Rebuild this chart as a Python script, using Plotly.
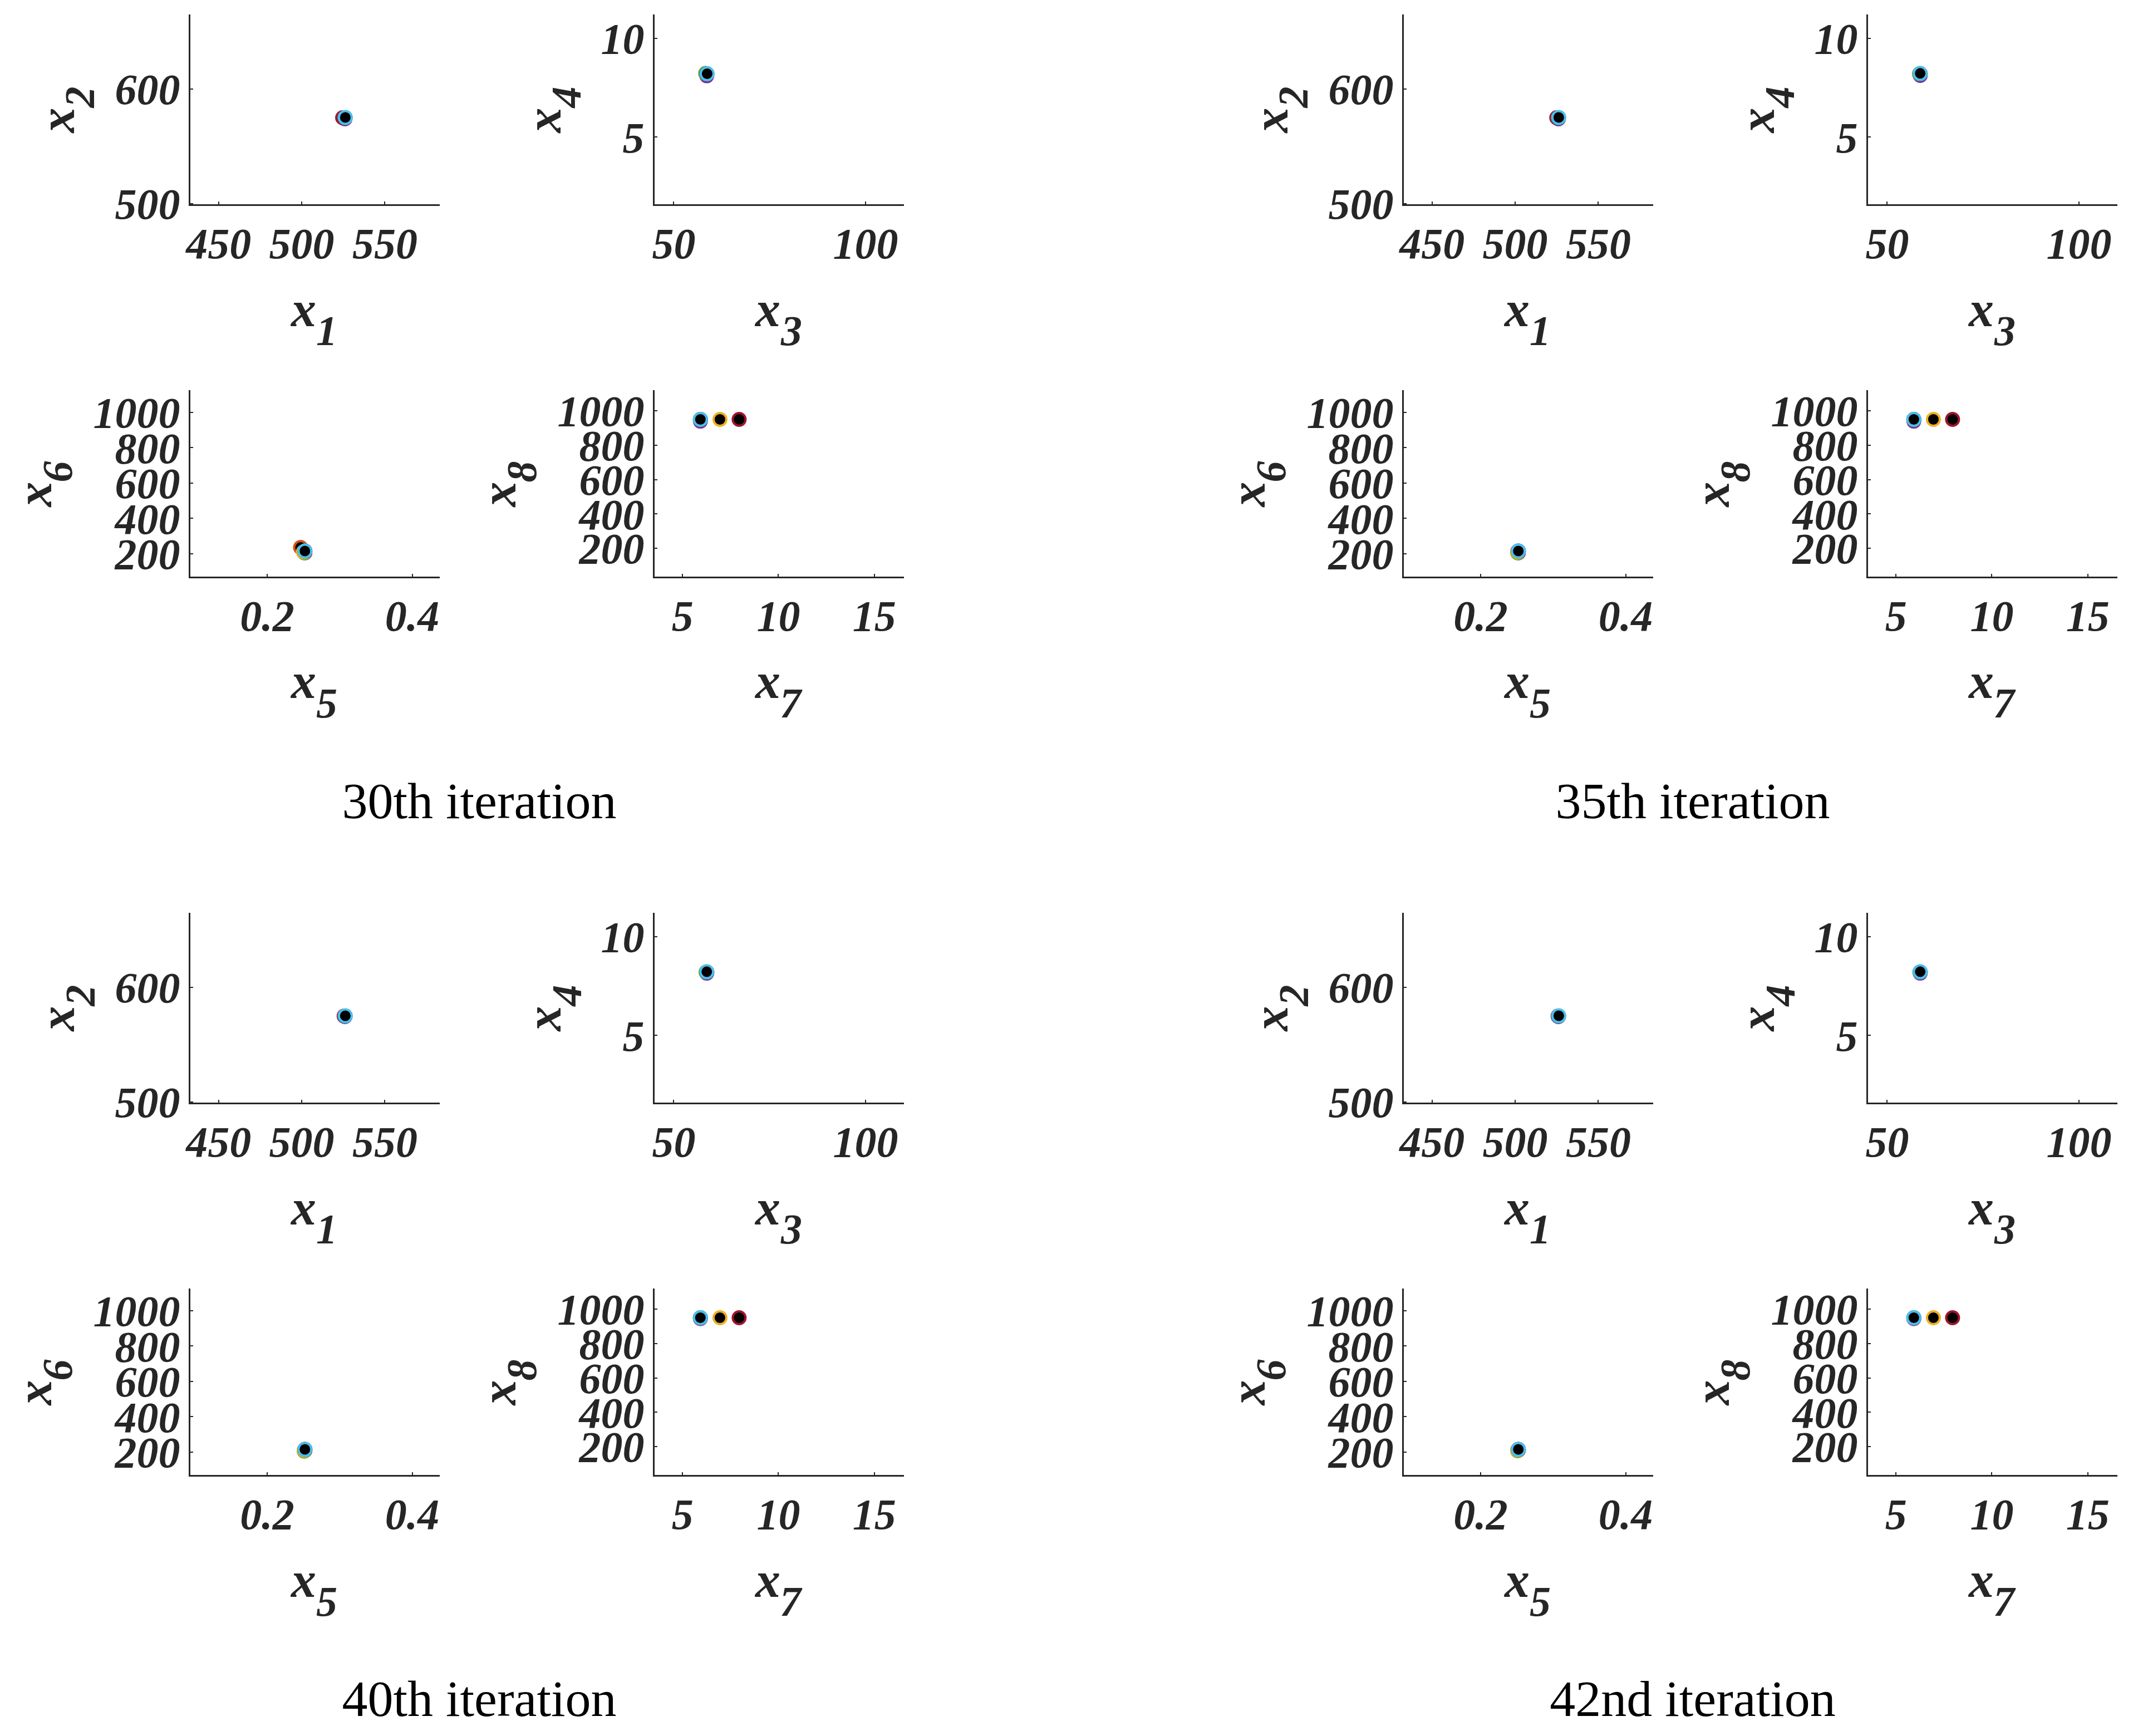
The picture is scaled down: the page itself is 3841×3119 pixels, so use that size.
import plotly.graph_objects as go

# ---------------- data ----------------
iteration_labels = ["30th iteration", "35th iteration", "40th iteration", "42nd iteration"]
particle_colors = ["#7E2F8E", "#D95319", "#77AC30", "#A2142F", "#EDB120", "#0072BD", "#4DBEEE"]

# 30th iteration (7 particles)
x1_30 = [526.0, 526.0, 526.0, 524.6, 526.0, 526.0, 526.2]
x2_30 = [574.0, 575.0, 575.0, 575.0, 575.0, 575.0, 575.2]
x3_30 = [58.6, 58.6, 58.3, 58.6, 58.6, 58.6, 58.7]
x4_30 = [8.10, 8.20, 8.22, 8.20, 8.20, 8.20, 8.20]
x5_30 = [0.252, 0.246, 0.251, 0.252, 0.250, 0.252, 0.252]
x6_30 = [205, 235, 205, 215, 210, 215, 215]
x7_30 = [5.93, 5.93, 5.93, 7.95, 6.95, 5.93, 5.93]
x8_30 = [940, 950, 950, 950, 950, 950, 950]

# 35th iteration
x1_35 = [526.0, 526.0, 526.0, 525.0, 526.0, 526.0, 526.2]
x2_35 = [574.0, 575.0, 575.0, 575.0, 575.0, 575.0, 575.2]
x3_35 = [58.6, 58.6, 58.4, 58.6, 58.6, 58.6, 58.6]
x4_35 = [8.12, 8.20, 8.20, 8.20, 8.20, 8.20, 8.22]
x5_35 = [0.252, 0.251, 0.251, 0.252, 0.251, 0.252, 0.252]
x6_35 = [205, 212, 205, 215, 210, 215, 215]
x7_35 = [5.93, 5.93, 5.93, 7.95, 6.95, 5.93, 5.93]
x8_35 = [940, 950, 950, 950, 950, 950, 950]

# 40th iteration
x1_40 = [526.0, 526.0, 526.0, 525.5, 526.0, 526.0, 526.2]
x2_40 = [574.5, 575.0, 575.0, 575.0, 575.0, 575.0, 575.2]
x3_40 = [58.6, 58.6, 58.4, 58.6, 58.6, 58.6, 58.6]
x4_40 = [8.15, 8.20, 8.20, 8.20, 8.20, 8.20, 8.22]
x5_40 = [0.252, 0.252, 0.251, 0.252, 0.251, 0.252, 0.252]
x6_40 = [208, 212, 205, 215, 210, 215, 215]
x7_40 = [5.93, 5.93, 5.93, 7.95, 6.95, 5.93, 5.93]
x8_40 = [945, 950, 950, 950, 950, 950, 950]

# 42nd iteration
x1_42 = [526.0, 526.0, 526.0, 525.8, 526.0, 526.0, 526.2]
x2_42 = [574.5, 575.0, 575.0, 575.0, 575.0, 575.0, 575.2]
x3_42 = [58.6, 58.6, 58.5, 58.6, 58.6, 58.6, 58.6]
x4_42 = [8.15, 8.20, 8.20, 8.20, 8.20, 8.20, 8.22]
x5_42 = [0.252, 0.252, 0.251, 0.252, 0.251, 0.252, 0.252]
x6_42 = [210, 212, 207, 215, 212, 215, 215]
x7_42 = [5.93, 5.93, 5.93, 7.95, 6.95, 5.93, 5.93]
x8_42 = [945, 950, 950, 950, 950, 950, 950]

iterations = [
    [x1_30, x2_30, x3_30, x4_30, x5_30, x6_30, x7_30, x8_30],
    [x1_35, x2_35, x3_35, x4_35, x5_35, x6_35, x7_35, x8_35],
    [x1_40, x2_40, x3_40, x4_40, x5_40, x6_40, x7_40, x8_40],
    [x1_42, x2_42, x3_42, x4_42, x5_42, x6_42, x7_42, x8_42],
]

# axis ranges / ticks per panel (x1-x2, x3-x4, x5-x6, x7-x8)
x_ranges = [[433, 583], [45, 110], [0.094, 0.438], [3.54, 16.55]]
y_ranges = [[499.5, 665], [1.6, 11.2], [70, 1125], [35, 1120]]
x_ticks = [[450, 500, 550], [50, 100], [0.2, 0.4], [5, 10, 15]]
y_ticks = [[500, 600], [5, 10], [200, 400, 600, 800, 1000], [200, 400, 600, 800, 1000]]
x_tick_text = [["450", "500", "550"], ["50", "100"], ["0.2", "0.4"], ["5", "10", "15"]]
y_tick_text = [["500", "600"], ["5", "10"], ["200", "400", "600", "800", "1000"],
               ["200", "400", "600", "800", "1000"]]

# ---------------- layout geometry (pixels, page coordinates) ----------------
W, H = 3841, 3119
PAGE_OFF = 8            # default body margin of the html page
GX = [0, 2180]          # group x offsets
GY = [0, 1614]          # group y offsets
PX = [[342, 790], [1176, 1624], [342, 790], [1176, 1624]]
PY = [[26, 367], [26, 367], [701, 1036], [701, 1036]]
YT_DX = [240, 200, 281, 281]
CAPTION_X = 861
CAPTION_Y = [1447, 3060]   # caption centre per row

AX_COLOR = "#262626"
TICK_FONT = dict(family="Liberation Serif", size=78, color=AX_COLOR, weight="bold", style="italic")
TITLE_FONT = dict(family="Liberation Serif", size=90, color=AX_COLOR, weight="bold", style="italic")
SUB_FONT = dict(family="Liberation Serif", size=76, color=AX_COLOR, weight="bold", style="italic")

fig = go.Figure()
layout = dict(width=W, height=H, autosize=False,
              margin=dict(l=0, r=0, t=0, b=0, pad=0, autoexpand=False),
              paper_bgcolor="white", plot_bgcolor="rgba(0,0,0,0)", showlegend=False)
annotations = []

def px2paper(x, y):
    return (x - PAGE_OFF) / W, 1 - (y - PAGE_OFF) / H

k = 0
for gi, vals in enumerate(iterations):
    gx = GX[gi % 2]
    gy = GY[gi // 2]
    for p in range(4):
        k += 1
        xs = vals[2 * p]
        ys = vals[2 * p + 1]
        xname = "x" if k == 1 else f"x{k}"
        yname = "y" if k == 1 else f"y{k}"
        fig.add_trace(go.Scatter(
            x=xs, y=ys, mode="markers", xaxis=xname, yaxis=yname,
            marker=dict(size=23, color="black",
                        line=dict(color=particle_colors, width=4)),
            hoverinfo="skip"))
        l, r = PX[p][0] + gx, PX[p][1] + gx
        t, b = PY[p][0] + gy, PY[p][1] + gy
        xl, yb = px2paper(l, b)
        xr, yt = px2paper(r, t)
        common = dict(showline=True, linecolor=AX_COLOR, linewidth=3, mirror=False,
                      showgrid=False, zeroline=False, ticks="inside", ticklen=5,
                      tickwidth=2, tickcolor=AX_COLOR, tickfont=TICK_FONT, fixedrange=True,
                      automargin=False)
        layout["xaxis" if k == 1 else f"xaxis{k}"] = dict(
            common, domain=[xl, xr], range=x_ranges[p],
            tickvals=x_ticks[p], ticktext=x_tick_text[p],
            anchor=yname, ticklabelstandoff=0)
        layout["yaxis" if k == 1 else f"yaxis{k}"] = dict(
            common, domain=[yb, yt], range=y_ranges[p],
            tickvals=y_ticks[p], ticktext=y_tick_text[p],
            anchor=xname, ticklabelstandoff=0)
        # x-axis title x_{n}
        cx = (l + r) / 2
        ax_, ay_ = px2paper(cx - 22, b + 188)
        annotations.append(dict(text="x", x=ax_, y=ay_, xref="paper", yref="paper",
                                xanchor="center", yanchor="middle", showarrow=False, font=TITLE_FONT))
        ax_, ay_ = px2paper(cx + 21, b + 227)
        annotations.append(dict(text=str(2 * p + 1), x=ax_, y=ay_, xref="paper", yref="paper",
                                xanchor="center", yanchor="middle", showarrow=False, font=SUB_FONT))
        # y-axis title x_{n+1} (rotated)
        vc = (t + b) / 2
        ax_, ay_ = px2paper(l - YT_DX[p], vc + 21)
        annotations.append(dict(text="x", x=ax_, y=ay_, xref="paper", yref="paper", textangle=-90,
                                xanchor="center", yanchor="middle", showarrow=False, font=TITLE_FONT))
        ax_, ay_ = px2paper(l - YT_DX[p] + 41, vc - 21)
        annotations.append(dict(text=str(2 * p + 2), x=ax_, y=ay_, xref="paper", yref="paper",
                                textangle=-90, xanchor="center", yanchor="middle", showarrow=False,
                                font=SUB_FONT))

# captions: a text trace on a transparent full-figure overlay axis measured in page pixels
cap_x = [CAPTION_X + GX[gi % 2] for gi in range(4)]
cap_y = [CAPTION_Y[gi // 2] for gi in range(4)]
kc = k + 1
fig.add_trace(go.Scatter(
    x=cap_x, y=cap_y, mode="text", text=iteration_labels, textposition="middle center",
    textfont=dict(family="Liberation Serif", size=92, color="black"),
    xaxis=f"x{kc}", yaxis=f"y{kc}", hoverinfo="skip", cliponaxis=False))
layout[f"xaxis{kc}"] = dict(domain=[0, 1], range=[PAGE_OFF, W + PAGE_OFF], visible=False,
                            fixedrange=True, anchor=f"y{kc}")
layout[f"yaxis{kc}"] = dict(domain=[0, 1], range=[H + PAGE_OFF, PAGE_OFF], visible=False,
                            fixedrange=True, anchor=f"x{kc}")

layout["annotations"] = annotations
fig.update_layout(**layout)
fig.write_html("out.html")
